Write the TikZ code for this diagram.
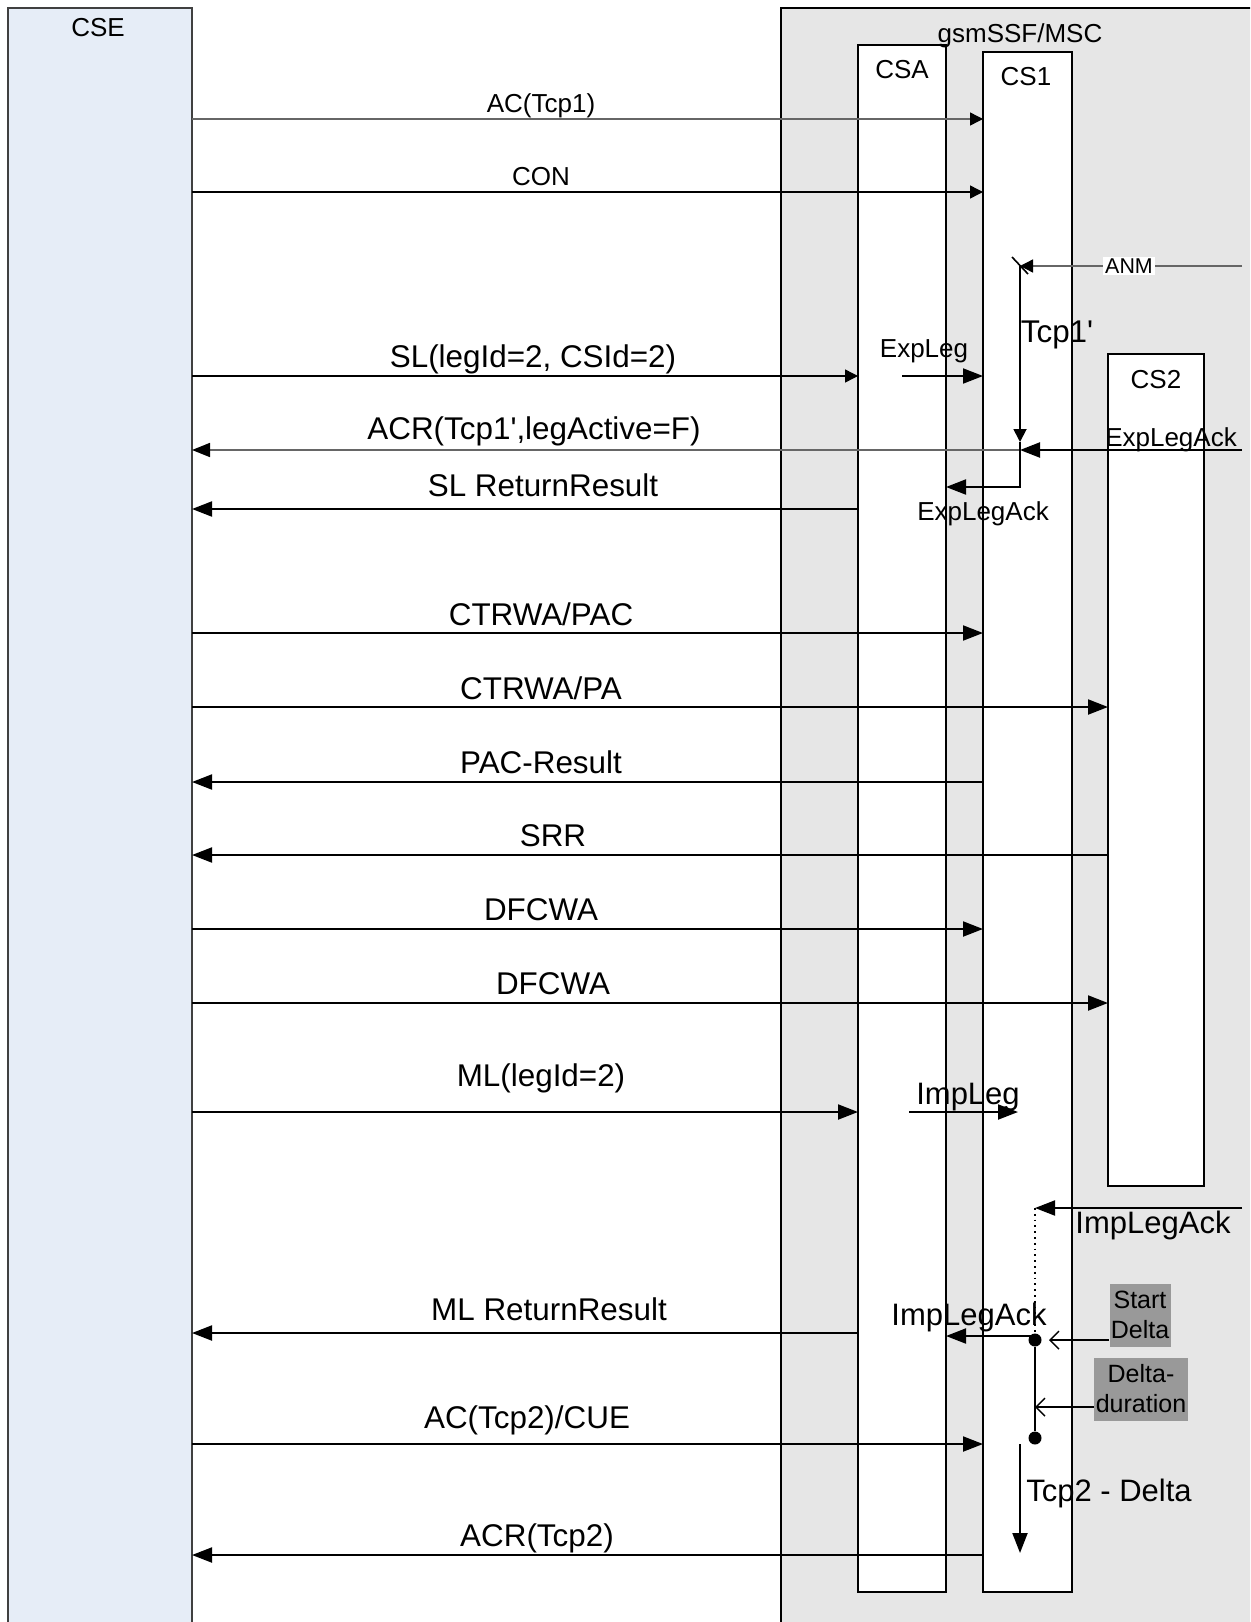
\documentclass[tikz,border=0pt]{standalone}
\usepackage{fontspec}
\setmainfont{Liberation Sans}
\usetikzlibrary{arrows.meta}
\definecolor{cseblue}{RGB}{230,237,247}
\definecolor{mscgray}{RGB}{230,230,230}
\definecolor{notegray}{RGB}{153,153,153}
\tikzset{
  lane/.style={draw,line width=1pt,fill=white,inner sep=0pt,outer sep=0pt,anchor=north west},
  txt/.style={font=\fontsize{13}{15}\selectfont,inner sep=0pt,anchor=base},
  mtxt/.style={font=\fontsize{15.5}{18}\selectfont,inner sep=0pt,anchor=base},
  btxt/.style={font=\fontsize{15.7}{18}\selectfont,inner sep=0pt,anchor=base},
  msg/.style={line width=1pt,-{Triangle[length=10pt,width=7.5pt]}},
  lmsg/.style={line width=0.7pt,-{Triangle[length=6.5pt,width=6.5pt,color=black]}},
  gmsg/.style={lmsg,draw=black!60},
  obarb/.style={line width=0.7pt,-{Straight Barb[length=4.5pt,width=9pt]}},
  note/.style={fill=notegray,font=\fontsize{12.5}{15}\selectfont,align=center,inner sep=0.5pt},
  dot/.style={circle,fill,inner sep=0pt,minimum size=6.5pt}
}
\begin{document}
\begin{tikzpicture}[x=0.5pt,y=-0.5pt]
\useasboundingbox (0,0) rectangle (1250,1622);
\clip (0,0) rectangle (1250,1622);
% lanes
\node[lane,fill=cseblue,draw=black!75,line width=0.6pt,minimum width=92pt,minimum height=820pt] (cse) at (8,8) {};
\node[lane,fill=mscgray,line width=0.6pt,minimum width=250pt,minimum height=820pt] (msc) at (781,8) {};
\node[lane,minimum width=44pt,minimum height=773.5pt] (csa) at (858,45) {};
\node[lane,minimum width=44.5pt,minimum height=770pt] (cs1) at (983,52) {};
\node[lane,minimum width=48pt,minimum height=416pt] (cs2) at (1108,354) {};
\node[txt] (cselbl) at (98,36) {CSE};
\node[txt] (msclbl) at (1020,42) {gsmSSF/MSC};
\node[txt] (csalbl) at (902,78) {CSA};
\node[txt] (cs1lbl) at (1026,85) {CS1};
\node[txt] (cs2lbl) at (1156,388) {CS2};
% internal points
\coordinate (anmsrc) at (1242,266);
\coordinate (anm) at (1020,266);
\coordinate (tmo) at (1020,442);
\coordinate (acr) at (1020,450);
\coordinate (acksrc) at (1242,450);
\coordinate (ack) at (1020,487);
\coordinate (expleg) at (902,376);
\coordinate (impleg) at (909,1112);
\coordinate (implegend) at (1018,1112);
\coordinate (implsrc) at (1242,1208);
\coordinate (impl) at (1035,1208);
\coordinate (t2a) at (1020,1444);
\coordinate (t2b) at (1020,1553);
% messages
\draw[gmsg] (cse.east |- 0,119) -- (cs1.west |- 0,119);
\node[txt] (m1) at (541,112) {AC(Tcp1)};
\draw[lmsg] (cse.east |- 0,192) -- (cs1.west |- 0,192);
\node[txt] (m2) at (541,185) {CON};
\draw[gmsg] (anmsrc) -- (anm);
\node[fill=white,inner sep=1pt,font=\fontsize{10.7}{12}\selectfont] (anmlbl) at (1129,266) {ANM};
\draw[line width=0.8pt] ([shift={(-8,-9)}]anm) -- ([shift={(8,8)}]anm);
\draw[lmsg,line width=0.9pt] (anm) -- (tmo);
\node[btxt] (tcp1lbl) at (1057,342) {Tcp1\textquotesingle};
\draw[lmsg] (cse.east |- expleg) -- (csa.west |- expleg);
\node[btxt] (m3) at (533,367) {SL(legId=2, CSId=2)};
\draw[msg] (expleg) -- (cs1.west |- expleg);
\node[txt] (explbl) at (924,357) {ExpLeg};
\draw[msg,line width=1.1pt] (acksrc) -- (acr);
\node[txt] (ackr) at (1171,446) {ExpLegAck};
\draw[gmsg,line width=0.8pt,-{Triangle[length=9pt,width=7pt,color=black]}] (acr) -- (cse.east |- acr);
\node[btxt] (m4) at (534,439) {ACR(Tcp1\textquotesingle,legActive=F)};
\draw[msg] (tmo) -- (ack) -- (csa.east |- ack);
\node[txt] (ackl) at (983,520) {ExpLegAck};
\draw[msg] (csa.west |- 0,509) -- (cse.east |- 0,509);
\node[btxt] (m5) at (543,496) {SL ReturnResult};
\draw[msg] (cse.east |- 0,633) -- (cs1.west |- 0,633);
\node[btxt] (m6) at (541,625) {CTRWA/PAC};
\draw[msg] (cse.east |- 0,707) -- (cs2.west |- 0,707);
\node[btxt] (m7) at (541,699) {CTRWA/PA};
\draw[msg] (cs1.west |- 0,782) -- (cse.east |- 0,782);
\node[btxt] (m8) at (541,773) {PAC-Result};
\draw[msg] (cs2.west |- 0,855) -- (cse.east |- 0,855);
\node[btxt] (m9) at (553,846) {SRR};
\draw[msg] (cse.east |- 0,929) -- (cs1.west |- 0,929);
\node[btxt] (m10) at (541,920) {DFCWA};
\draw[msg] (cse.east |- 0,1003) -- (cs2.west |- 0,1003);
\node[btxt] (m11) at (553,994) {DFCWA};
\draw[msg] (cse.east |- impleg) -- (csa.west |- impleg);
\node[btxt] (m12) at (541,1086) {ML(legId=2)};
\draw[msg] (impleg) -- (implegend);
\node[mtxt] (implbl) at (968,1104) {ImpLeg};
\draw[msg] (implsrc) -- (impl);
\node[mtxt] (implackr) at (1153,1233) {ImpLegAck};
% delta timer
\node[dot] (d1) at (1035,1340) {};
\node[dot] (d2) at (1035,1438) {};
\draw[dotted,line width=0.9pt] (impl) -- (d1);
\draw[line width=0.9pt] (d1) -- (d2);
\draw[msg] (d1.center |- 0,1336) -- (csa.east |- 0,1336);
\node[mtxt] (implackl) at (969,1325) {ImpLegAck};
\draw[msg] (csa.west |- 0,1333) -- (cse.east |- 0,1333);
\node[btxt] (m13) at (549,1320) {ML ReturnResult};
\node[note,minimum width=30.5pt,minimum height=31.5pt] (sd) at (1140,1315) {Start\\Delta};
\node[note,minimum width=47pt,minimum height=31.5pt] (dd) at (1141,1389) {Delta-\\duration};
\draw[obarb] (sd.west |- d1) -- ([xshift=7pt]d1.center);
\draw[obarb] (dd.west |- 0,1407) -- (d1.center |- 0,1407);
\draw[msg] (cse.east |- t2a) -- (cs1.west |- t2a);
\node[btxt] (m14) at (527,1428) {AC(Tcp2)/CUE};
\draw[msg] (t2a) -- (t2b);
\node[mtxt] (tcp2lbl) at (1109,1501) {Tcp2 - Delta};
\draw[msg] (cs1.west |- 0,1555) -- (cse.east |- 0,1555);
\node[btxt] (m15) at (537,1546) {ACR(Tcp2)};
\end{tikzpicture}
\end{document}
